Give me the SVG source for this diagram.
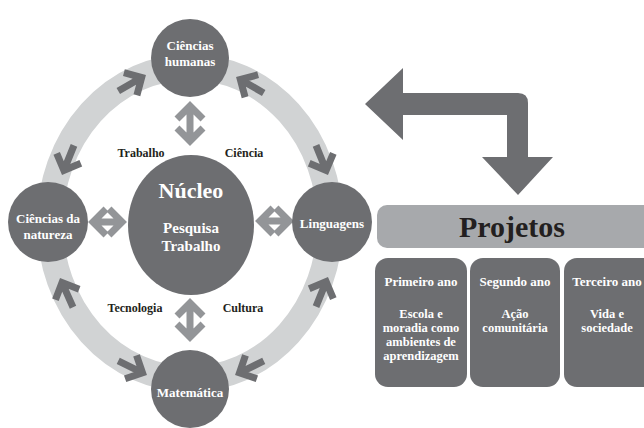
<svg xmlns="http://www.w3.org/2000/svg" width="644" height="428" viewBox="0 0 644 428">
  <style>
    .node { fill: #6d6e71; }
    .nt { font-family: "Liberation Serif", "Times New Roman", serif; font-weight: bold; font-size: 13px; fill: #ffffff; text-anchor: middle; }
    .ct { font-size: 12.5px; }
    .lbl { font-family: "Liberation Serif", "Times New Roman", serif; font-weight: bold; font-size: 12px; fill: #231f20; text-anchor: middle; }
    .ring { fill: none; stroke: #d1d3d4; stroke-width: 26; }
    .ra { fill: none; stroke: #6d6e71; stroke-width: 7; stroke-linejoin: miter; stroke-linecap: butt; }
    .da { fill: none; stroke: #939598; stroke-width: 7; stroke-linejoin: miter; stroke-linecap: butt; }
  </style>
  <defs>
    <path id="ra" d="M-32,0 H-5 M-18,-13 L-5,0 L-18,13"/>
  </defs>
  <rect width="644" height="428" fill="#ffffff"/>

  <g id="connectors">
    <ellipse class="ring" cx="190" cy="223" rx="140" ry="156"/>
    <g class="ra">
      <use href="#ra" transform="translate(146,75) rotate(-30)"/>
      <use href="#ra" transform="translate(236,77) rotate(-150)"/>
      <use href="#ra" transform="translate(62,175) rotate(112)"/>
      <use href="#ra" transform="translate(328,175) rotate(68)"/>
      <use href="#ra" transform="translate(60,278) rotate(-114)"/>
      <use href="#ra" transform="translate(328,277) rotate(-68)"/>
      <use href="#ra" transform="translate(147,375) rotate(26)"/>
      <use href="#ra" transform="translate(235,375) rotate(154)"/>
    </g>
    <g class="da">
      <path d="M177,119 L190,106 L203,119 M190,106 L190,141 M177,128 L190,141 L203,128"/>
      <path d="M177,316 L190,303 L203,316 M190,303 L190,337 M177,324 L190,337 L203,324"/>
      <path d="M106,209 L93,222 L106,235 M93,222 L122,222 M109,209 L122,222 L109,235"/>
      <path d="M273,208 L260,221 L273,234 M260,221 L289,221 M276,208 L289,221 L276,234"/>
    </g>
    <path d="M365,104 L403,68 L403,93 L518,93 Q528,93 528,103 L528,157 L553,157 L518,195 L482,157 L507,157 L507,115 L403,115 L403,140 Z" fill="#6d6e71"/>
  </g>

  <g id="labels">
    <text class="lbl" x="141" y="157">Trabalho</text>
    <text class="lbl" x="244" y="157">Ciência</text>
    <text class="lbl" x="135" y="312">Tecnologia</text>
    <text class="lbl" x="243" y="312">Cultura</text>
  </g>

  <g id="node-ciencias-humanas">
    <circle class="node" cx="190" cy="58" r="39"/>
    <text class="nt" x="190" y="50">Ciências</text>
    <text class="nt" x="190" y="66">humanas</text>
  </g>
  <g id="node-ciencias-natureza">
    <circle class="node" cx="48" cy="222" r="40"/>
    <text class="nt" x="48" y="223">Ciências da</text>
    <text class="nt" x="48" y="239">natureza</text>
  </g>
  <g id="node-linguagens">
    <circle class="node" cx="332" cy="222" r="40"/>
    <text class="nt" x="332" y="228">Linguagens</text>
  </g>
  <g id="node-matematica">
    <circle class="node" cx="190" cy="389" r="39"/>
    <text class="nt" x="190" y="397">Matemática</text>
  </g>
  <g id="node-nucleo">
    <ellipse class="node" cx="191" cy="225" rx="63" ry="70"/>
    <text class="nt" x="191" y="198" style="font-size:22px">Núcleo</text>
    <text class="nt" x="191" y="233" style="font-size:15px">Pesquisa</text>
    <text class="nt" x="191" y="251" style="font-size:15px">Trabalho</text>
  </g>

  <g id="node-projetos">
    <rect x="377" y="205" width="290" height="43" rx="10" fill="#a7a9ac"/>
    <text x="512" y="237" font-family="Liberation Serif, Times New Roman, serif" font-weight="bold" font-size="30" fill="#231f20" text-anchor="middle">Projetos</text>
  </g>
  <g id="node-primeiro-ano">
    <rect class="node" x="375" y="258" width="92" height="129" rx="13"/>
    <text class="nt" x="421" y="286">Primeiro ano</text>
    <text class="nt ct" x="421" y="318">Escola e</text>
    <text class="nt ct" x="421" y="332">moradia como</text>
    <text class="nt ct" x="421" y="346">ambientes de</text>
    <text class="nt ct" x="421" y="360">aprendizagem</text>
  </g>
  <g id="node-segundo-ano">
    <rect class="node" x="470" y="258" width="90" height="129" rx="13"/>
    <text class="nt" x="515" y="286">Segundo ano</text>
    <text class="nt ct" x="515" y="318">Ação</text>
    <text class="nt ct" x="515" y="332">comunitária</text>
  </g>
  <g id="node-terceiro-ano">
    <rect class="node" x="564" y="258" width="100" height="129" rx="13"/>
    <text class="nt" x="607" y="286">Terceiro ano</text>
    <text class="nt ct" x="607" y="318">Vida e</text>
    <text class="nt ct" x="607" y="332">sociedade</text>
  </g>
</svg>
